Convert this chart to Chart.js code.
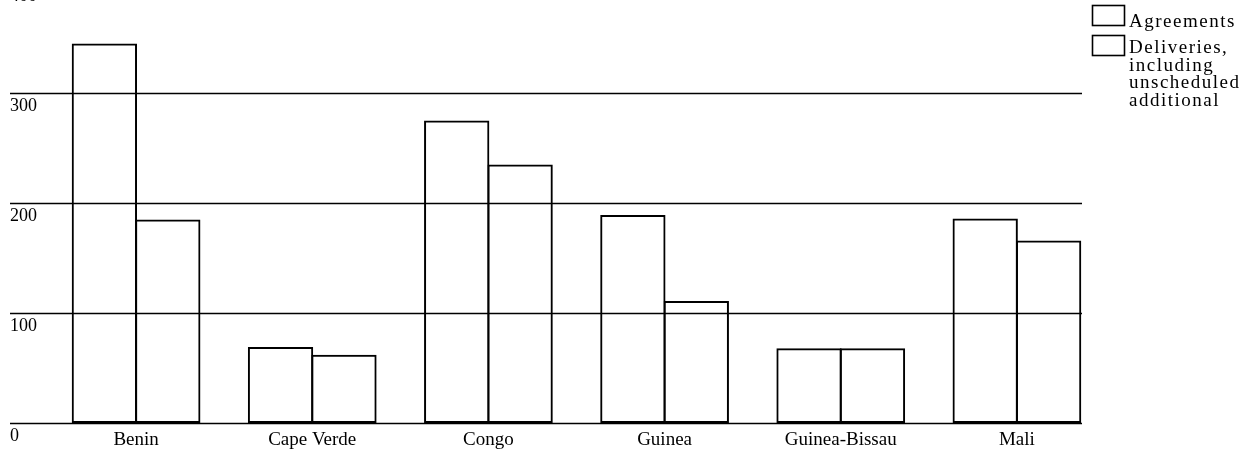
<!DOCTYPE html>
<html>
<head>
<meta charset="utf-8">
<script src="https://cdn.jsdelivr.net/npm/chart.js@4/dist/chart.umd.min.js"></script>
<style>
  html, body { margin: 0; padding: 0; background: #fff; }
  canvas { display: block; }
</style>
</head>
<body>
<canvas id="c" width="1253" height="455"></canvas>
<script>
const categories = ["Benin", "Cape Verde", "Congo", "Guinea", "Guinea-Bissau", "Mali"];
const agreements = [345, 69, 275, 189, 68, 186];
const deliveries = [185, 62, 235, 111, 68, 166];
const yTicks = [0, 100, 200, 300, 400];
const legendLabels = [["Agreements"], ["Deliveries,", "including", "unscheduled", "additional"]];

const FONT = '"Liberation Serif", "Times New Roman", serif';

const paperPlugin = {
  id: 'paper',
  beforeDatasetsDraw(chart) {
    const ctx = chart.ctx;
    const y = chart.scales.y;
    ctx.save();
    ctx.strokeStyle = '#000';
    ctx.lineWidth = 1.6;
    ctx.fillStyle = '#000';
    ctx.font = '18px ' + FONT;
    ctx.textAlign = 'left';
    ctx.textBaseline = 'top';
    yTicks.forEach(v => {
      const py = Math.round(y.getPixelForValue(v)) + 0.5;
      ctx.beginPath();
      ctx.moveTo(10, py);
      ctx.lineTo(1082, py);
      ctx.stroke();
      ctx.fillText(String(v), 10, py + 4);
    });
    ctx.restore();
  },
  afterDraw(chart) {
    const ctx = chart.ctx;
    ctx.save();
    ctx.strokeStyle = '#000';
    ctx.lineWidth = 1.6;
    ctx.fillStyle = '#000';
    ctx.font = '19px ' + FONT;
    try { ctx.letterSpacing = '1.5px'; } catch (e) {}
    ctx.textAlign = 'left';
    ctx.textBaseline = 'alphabetic';
    const boxTops = [5, 35];
    const firstBaselines = [27, 53];
    legendLabels.forEach((lines, i) => {
      ctx.strokeRect(1092.5, boxTops[i] + 0.5, 32, 20);
      lines.forEach((t, j) => {
        ctx.fillText(t, 1129, firstBaselines[i] + j * 17.5);
      });
    });
    ctx.restore();
  }
};

new Chart(document.getElementById('c'), {
  type: 'bar',
  data: {
    labels: categories,
    datasets: [
      { label: 'Agreements', data: agreements,
        backgroundColor: 'rgba(255,255,255,0)', borderColor: '#000', borderWidth: 2,
        borderSkipped: false, barPercentage: 1.03, categoryPercentage: 0.72 },
      { label: 'Deliveries, including unscheduled additional', data: deliveries,
        backgroundColor: 'rgba(255,255,255,0)', borderColor: '#000', borderWidth: 2,
        borderSkipped: false, barPercentage: 1.03, categoryPercentage: 0.72 }
    ]
  },
  options: {
    responsive: false,
    animation: false,
    devicePixelRatio: 1,
    layout: { padding: { left: 48, right: 148, top: 0, bottom: 0 } },
    plugins: {
      colors: { enabled: false },
      legend: { display: false },
      tooltip: { enabled: false },
      title: { display: false }
    },
    scales: {
      x: {
        grid: { display: false, drawTicks: false },
        border: { display: false },
        ticks: {
          color: '#000',
          padding: 6,
          maxRotation: 0,
          autoSkip: false,
          font: { family: FONT, size: 19 }
        },
        afterFit(scale) { scale.height = 32; }
      },
      y: {
        display: false,
        min: 0,
        max: 384.5,
        ticks: { stepSize: 100 }
      }
    }
  },
  plugins: [paperPlugin]
});
</script>
</body>
</html>
